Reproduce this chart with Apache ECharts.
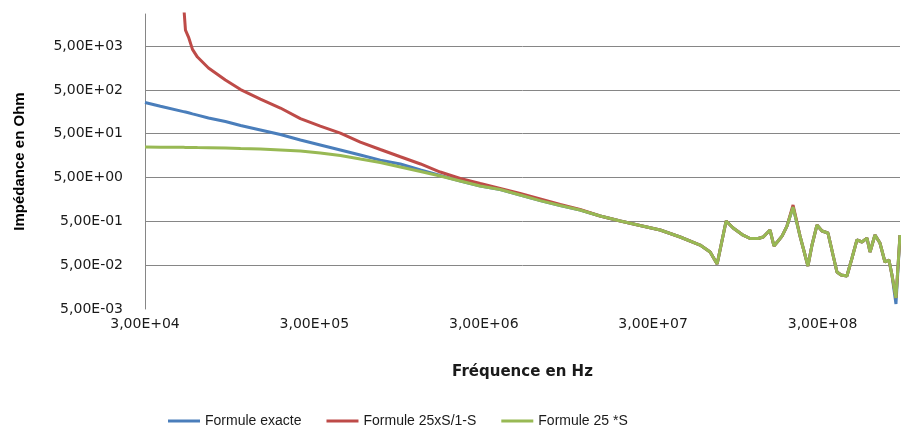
<!DOCTYPE html>
<html>
<head>
<meta charset="utf-8">
<script src="https://cdn.jsdelivr.net/npm/echarts@6/dist/echarts.min.js"></script>
<style>
  html, body { margin: 0; padding: 0; background: #fff; }
  #chart { width: 901px; height: 431px; }
</style>
</head>
<body>
<div id="chart"></div>
<script>
// frequencies (Hz) shared by the three curves
const freqHz = [3.0e4, 3.70e4, 5.06e4, 5.20e4, 5.42e4, 5.72e4, 6.12e4, 7.11e4, 8.95e4, 1.10e5,
  1.44e5, 1.89e5, 2.48e5, 3.25e5, 4.27e5, 5.60e5, 7.35e5, 9.65e5, 1.27e6, 1.66e6,
  2.18e6, 2.86e6, 3.75e6, 4.92e6, 6.46e6, 8.48e6, 1.11e7, 1.46e7, 1.92e7, 2.51e7,
  3.30e7, 4.33e7, 5.68e7, 6.51e7, 7.16e7, 8.09e7, 8.90e7, 1.005e8, 1.12e8, 1.25e8,
  1.34e8, 1.47e8, 1.55e8, 1.64e8, 1.73e8, 1.85e8, 2.01e8, 2.21e8, 2.46e8, 2.60e8,
  2.78e8, 2.98e8, 3.23e8, 3.46e8, 3.65e8, 3.86e8, 4.18e8, 4.48e8, 4.79e8, 5.13e8,
  5.49e8, 5.72e8, 6.12e8, 6.55e8, 7.01e8, 7.40e8, 7.71e8, 8.14e8, 8.60e8];

// impedance (Ohm)
const zExacte = [257, 211, 160, 156, 150, 142, 133, 114, 94.8, 76.9,
  60.7, 47.9, 35.9, 27.6, 21.2, 16.3, 12.5, 10.2, 7.42, 5.56,
  4.16, 3.20, 2.66, 2.00, 1.49, 1.15, 0.907, 0.662, 0.509, 0.402,
  0.317, 0.220, 0.144, 0.0999, 0.0532, 0.509, 0.352, 0.250, 0.203, 0.203,
  0.220, 0.317, 0.137, 0.178, 0.231, 0.391, 1.06, 0.231, 0.0479, 0.144,
  0.412, 0.301, 0.271, 0.0853, 0.0349, 0.0298, 0.0283, 0.0729, 0.188, 0.169,
  0.208, 0.0999, 0.244, 0.160, 0.0591, 0.0656, 0.0298, 0.0065, 0.244];

const zRapport = [5e5, 2e5, 5e4, 11600, 8030, 4200, 2810, 1576, 839, 509,
  309, 193, 111, 74.8, 51.8, 32.3, 21.8, 14.9, 10.2, 6.68,
  4.75, 3.65, 2.81, 2.16, 1.62, 1.21, 0.931, 0.662, 0.509, 0.402,
  0.317, 0.220, 0.144, 0.0999, 0.0532, 0.509, 0.352, 0.250, 0.203, 0.203,
  0.220, 0.317, 0.137, 0.178, 0.231, 0.391, 1.18, 0.231, 0.0479, 0.144,
  0.412, 0.301, 0.271, 0.0853, 0.0349, 0.0298, 0.0283, 0.0729, 0.188, 0.169,
  0.208, 0.0999, 0.244, 0.160, 0.0591, 0.0656, 0.0298, 0.0089, 0.244];

const zProduit = [24.8, 24.7, 24.5, 24.4, 24.4, 24.3, 24.2, 24.0, 23.6, 22.9,
  22.4, 21.2, 20.1, 18.1, 15.9, 13.2, 11.0, 8.69, 6.86, 5.41,
  4.16, 3.20, 2.66, 2.00, 1.49, 1.15, 0.907, 0.662, 0.509, 0.402,
  0.317, 0.220, 0.144, 0.0999, 0.0532, 0.509, 0.352, 0.250, 0.203, 0.203,
  0.220, 0.317, 0.137, 0.178, 0.231, 0.391, 1.06, 0.231, 0.0479, 0.144,
  0.412, 0.301, 0.271, 0.0853, 0.0349, 0.0298, 0.0283, 0.0729, 0.188, 0.169,
  0.208, 0.0999, 0.244, 0.160, 0.0591, 0.0656, 0.0298, 0.0089, 0.244];

const seriesNames = ['Formule exacte', 'Formule 25xS/1-S', 'Formule 25 *S'];

// the axes are in decades counted from the first tick label
const freqBase = 3e4;   // 3,00E+04
const zBase = 5e-3;     // 5,00E-03
const freqMax = 8.6e8;
const zMax = 2.7e4;

const toXY = (zs) => freqHz.map((f, i) => [Math.log10(f / freqBase), Math.log10(zs[i] / zBase)]);

const pad2 = (n) => (n < 10 ? '0' : '') + n;
const isWhole = (v) => Math.abs(v - Math.round(v)) < 1e-6;

const chart = echarts.init(document.getElementById('chart'));

const labelFont = { fontFamily: 'DejaVu Sans', fontSize: 14, color: '#1a1a1a' };

chart.setOption({
  animation: false,
  grid: { left: 145, right: 1, top: 14, bottom: 122 },
  xAxis: {
    type: 'value',
    min: 0,
    max: Math.log10(freqMax / freqBase),
    interval: 1,
    name: 'Fréquence en Hz',
    nameLocation: 'middle',
    nameGap: 56,
    nameTextStyle: { fontFamily: 'DejaVu Sans', fontSize: 15, fontWeight: 'bold', color: '#1a1a1a' },
    axisLine: { show: false },
    axisTick: { show: false },
    splitLine: { show: false },
    axisLabel: Object.assign({
      margin: 8,
      showMaxLabel: false,
      formatter: (v) => isWhole(v) ? '3,00E+' + pad2(4 + Math.round(v)) : ''
    }, labelFont)
  },
  yAxis: {
    type: 'value',
    min: 0,
    max: Math.log10(zMax / zBase),
    interval: 1,
    name: 'Impédance en Ohm',
    nameLocation: 'middle',
    nameGap: 118,
    nameTextStyle: { fontFamily: 'Liberation Sans', fontSize: 15, fontWeight: 'bold', color: '#000' },
    axisLine: { show: true, lineStyle: { color: '#868686', width: 1 } },
    axisTick: { show: false },
    splitLine: { show: true, showMinLine: false, showMaxLine: false, lineStyle: { color: '#868686', width: 1 } },
    axisLabel: Object.assign({
      margin: 22,
      showMaxLabel: false,
      formatter: (v) => {
        if (!isWhole(v)) return '';
        const e = Math.round(v) - 3;
        return '5,00E' + (e < 0 ? '-' : '+') + pad2(Math.abs(e));
      }
    }, labelFont)
  },
  legend: {
    left: 163,
    top: 409,
    icon: 'rect',
    itemWidth: 32,
    itemHeight: 3,
    itemGap: 25,
    textStyle: { fontFamily: 'Liberation Sans', fontSize: 14, color: '#1a1a1a' },
    data: seriesNames
  },
  series: [
    { name: seriesNames[0], data: toXY(zExacte), color: '#4A7EBB' },
    { name: seriesNames[1], data: toXY(zRapport), color: '#BE4B48' },
    { name: seriesNames[2], data: toXY(zProduit), color: '#98B954' }
  ].map((s) => Object.assign({
    type: 'line',
    showSymbol: false,
    symbol: 'none',
    lineStyle: { width: 3 },
    clip: true
  }, s))
});
</script>
</body>
</html>
